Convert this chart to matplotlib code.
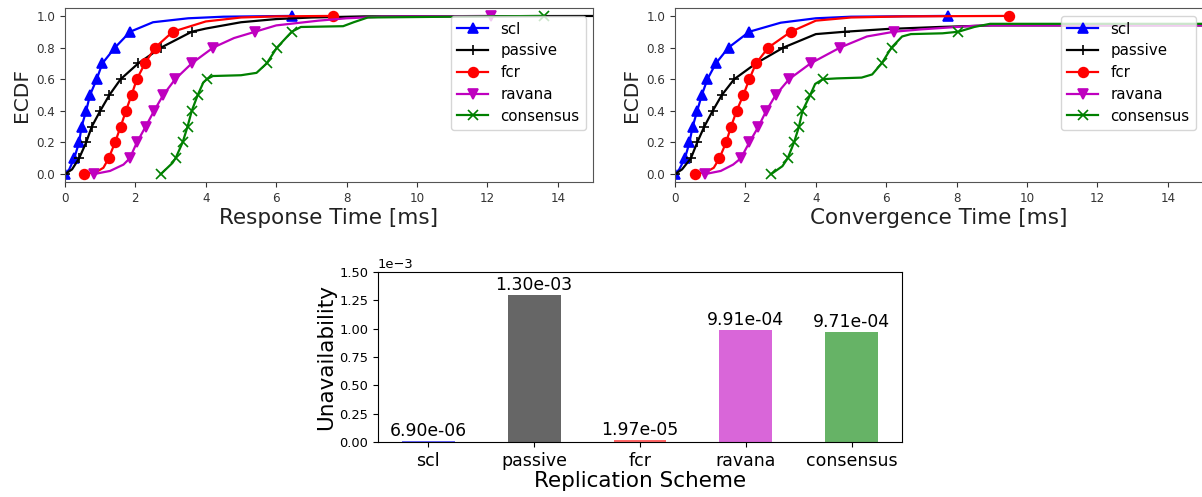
import matplotlib
matplotlib.use("Agg")
import matplotlib.pyplot as plt
from matplotlib.ticker import MultipleLocator, ScalarFormatter

schemes = ["scl", "passive", "fcr", "ravana", "consensus"]

# ECDF curves: response time [ms]
resp_scl_x = [0, 0.12, 0.26, 0.40, 0.47, 0.60, 0.71, 0.90, 1.06, 1.42, 1.85, 2.5, 3.5, 4.5, 6.45]
resp_scl_y = [0, 0.03, 0.1, 0.2, 0.3, 0.4, 0.5, 0.6, 0.7, 0.8, 0.9, 0.96, 0.985, 0.995, 1.0]
resp_passive_x = [0, 0.2, 0.40, 0.60, 0.76, 1.0, 1.26, 1.58, 2.08, 2.73, 3.6, 4.0, 5.0, 6.0, 7.0, 8.5, 16.0]
resp_passive_y = [0, 0.03, 0.1, 0.2, 0.3, 0.4, 0.5, 0.6, 0.7, 0.8, 0.9, 0.92, 0.96, 0.98, 0.99, 0.997, 1.0]
resp_fcr_x = [0.55, 0.9, 1.09, 1.24, 1.42, 1.58, 1.73, 1.89, 2.04, 2.27, 2.56, 3.06, 4.0, 5.0, 6.0, 7.62]
resp_fcr_y = [0, 0.015, 0.04, 0.1, 0.2, 0.3, 0.4, 0.5, 0.6, 0.7, 0.8, 0.9, 0.965, 0.99, 0.997, 1.0]
resp_ravana_x = [0.82, 1.28, 1.66, 1.84, 2.04, 2.29, 2.53, 2.79, 3.13, 3.6, 4.21, 4.8, 5.40, 6.0, 7.2, 8.0, 9.0, 12.1]
resp_ravana_y = [0, 0.02, 0.06, 0.1, 0.2, 0.3, 0.4, 0.5, 0.6, 0.7, 0.8, 0.86, 0.9, 0.94, 0.97, 0.985, 0.995, 1.0]
resp_consensus_x = [2.72, 3.05, 3.14, 3.34, 3.48, 3.6, 3.77, 3.93, 4.03, 4.2, 5.0, 5.44, 5.73, 6.02, 6.44, 6.7, 7.9, 8.2, 8.6, 11.0, 13.6]
resp_consensus_y = [0, 0.07, 0.1, 0.2, 0.3, 0.4, 0.5, 0.58, 0.6, 0.62, 0.625, 0.64, 0.7, 0.8, 0.9, 0.93, 0.935, 0.96, 0.99, 0.995, 1.0]

# ECDF curves: convergence time [ms]
conv_scl_x = [0, 0.12, 0.28, 0.41, 0.50, 0.63, 0.76, 0.92, 1.16, 1.52, 2.11, 3.0, 4.0, 5.0, 7.74]
conv_scl_y = [0, 0.03, 0.1, 0.2, 0.3, 0.4, 0.5, 0.6, 0.7, 0.8, 0.9, 0.957, 0.985, 0.995, 1.0]
conv_passive_x = [0, 0.2, 0.45, 0.63, 0.83, 1.07, 1.33, 1.68, 2.30, 3.08, 4.0, 4.83, 6.0, 7.5, 9.0, 16.0]
conv_passive_y = [0, 0.03, 0.1, 0.2, 0.3, 0.4, 0.5, 0.6, 0.7, 0.8, 0.885, 0.9, 0.917, 0.93, 0.94, 0.94]
conv_fcr_x = [0.57, 0.9, 1.1, 1.26, 1.45, 1.59, 1.75, 1.94, 2.11, 2.30, 2.65, 3.29, 4.0, 5.0, 6.5, 9.50]
conv_fcr_y = [0, 0.015, 0.04, 0.1, 0.2, 0.3, 0.4, 0.5, 0.6, 0.7, 0.8, 0.9, 0.97, 0.99, 0.997, 1.0]
conv_ravana_x = [0.85, 1.3, 1.65, 1.87, 2.11, 2.37, 2.59, 2.86, 3.24, 3.85, 4.69, 5.45, 6.22, 7.0, 8.0, 8.7, 16.0]
conv_ravana_y = [0, 0.02, 0.06, 0.1, 0.2, 0.3, 0.4, 0.5, 0.6, 0.7, 0.8, 0.87, 0.9, 0.915, 0.93, 0.94, 0.94]
conv_consensus_x = [2.73, 3.05, 3.20, 3.38, 3.52, 3.62, 3.84, 3.98, 4.2, 4.6, 5.3, 5.6, 5.87, 6.15, 6.45, 6.7, 7.6, 8.05, 8.5, 8.95, 16.0]
conv_consensus_y = [0, 0.05, 0.1, 0.2, 0.3, 0.4, 0.5, 0.57, 0.6, 0.605, 0.61, 0.63, 0.7, 0.8, 0.87, 0.885, 0.89, 0.9, 0.93, 0.95, 0.95]

# unavailability per replication scheme
unavailability = [6.90e-06, 1.30e-03, 1.97e-05, 9.91e-04, 9.71e-04]

line_styles = [("b", "^"), ("k", "+"), ("r", "o"), ("m", "v"), ("g", "x")]
bar_colors = ["#6666ff", "#666666", "#ff6666", "#d966d9", "#66b366"]

resp = [(resp_scl_x, resp_scl_y), (resp_passive_x, resp_passive_y), (resp_fcr_x, resp_fcr_y),
        (resp_ravana_x, resp_ravana_y), (resp_consensus_x, resp_consensus_y)]
conv = [(conv_scl_x, conv_scl_y), (conv_passive_x, conv_passive_y), (conv_fcr_x, conv_fcr_y),
        (conv_ravana_x, conv_ravana_y), (conv_consensus_x, conv_consensus_y)]

fig = plt.figure(figsize=(12.02, 4.97), dpi=100)
ax1 = fig.add_axes([0.0541, 0.6338, 0.4393, 0.3501])
ax2 = fig.add_axes([0.5616, 0.6338, 0.4393, 0.3501])
ax3 = fig.add_axes([0.3145, 0.1107, 0.4359, 0.3420])


def draw_ecdf(ax, curves, xlabel):
    for name, (xs, ys), (c, m) in zip(schemes, curves, line_styles):
        # markers every 10 % of the samples
        marks = [i for i, v in enumerate(ys) if abs(v * 10 - round(v * 10)) < 1e-9]
        ax.plot(xs, ys, color=c, marker=m, markevery=marks, lw=1.6,
                ms=7, mew=1.2, label=name)
    ax.set_xlim(0, 15)
    ax.set_ylim(-0.05, 1.05)
    ax.set_xticks(range(0, 15, 2))
    ax.set_yticks([0, 0.2, 0.4, 0.6, 0.8, 1.0])
    ax.set_yticklabels(["0.0", "0.2", "0.4", "0.6", "0.8", "1.0"])
    ax.tick_params(labelsize=8.6, colors="#333333")
    for s in ax.spines.values():
        s.set_color("#555555")
    ax.set_xlabel(xlabel, fontsize=15.5, color="#222222", labelpad=2)
    ax.set_ylabel("ECDF", fontsize=14.5, color="#222222", labelpad=4)
    ax.legend(loc="upper right", fontsize=10.8, labelspacing=0.45, handlelength=2.1)


draw_ecdf(ax1, resp, "Response Time [ms]")
draw_ecdf(ax2, conv, "Convergence Time [ms]")

bars = ax3.bar(schemes, unavailability, width=0.5, color=bar_colors)
for b, v in zip(bars, unavailability):
    ax3.text(b.get_x() + b.get_width() / 2, v + 0.008e-3, "%.2e" % v,
             ha="center", va="bottom", fontsize=12.4)
ax3.set_ylim(0, 1.5e-3)
ax3.yaxis.set_major_locator(MultipleLocator(0.25e-3))
fmt = ScalarFormatter()
fmt.set_powerlimits((-2, 2))
ax3.yaxis.set_major_formatter(fmt)
ax3.yaxis.get_offset_text().set_fontsize(9.4)
ax3.tick_params(axis="y", labelsize=9.4)
ax3.tick_params(axis="x", labelsize=12.5)
ax3.set_xlabel("Replication Scheme", fontsize=15.5, labelpad=1)
ax3.set_ylabel("Unavailability", fontsize=15.5, labelpad=2)

fig.savefig("out.png", dpi=100)
